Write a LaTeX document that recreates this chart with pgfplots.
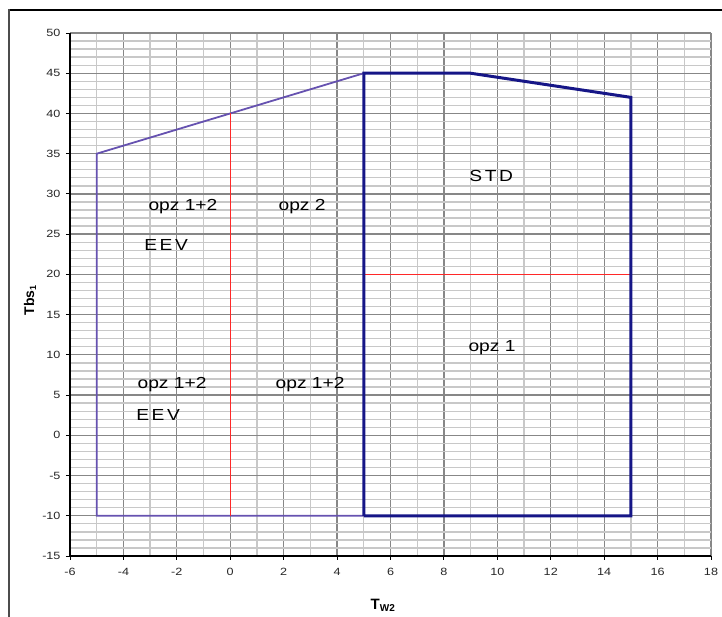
\documentclass[border=0pt]{standalone}
\usepackage{pgfplots}
\pgfplotsset{compat=1.18}
\usepackage{fontspec}
\setmainfont{Liberation Sans}[FakeStretch=1.2]
\newfontfamily\labelfont{Liberation Sans}
\definecolor{purp}{RGB}{102,82,176}
\definecolor{navy}{RGB}{22,22,135}
\definecolor{redl}{RGB}{255,40,40}
\definecolor{majg}{RGB}{135,135,135}
\definecolor{ming}{RGB}{200,200,200}
\begin{document}
\begin{tikzpicture}
\useasboundingbox (-70pt,-61pt) rectangle (652pt,556pt);
\draw[line width=1.5pt, black] (-61pt,546pt) -- (660pt,546pt);
\draw[line width=2pt, black!70] (-61pt,546.75pt) -- (-61pt,-70pt);
\begin{axis}[
  at={(0pt,0pt)}, anchor=south west,
  scale only axis, width=641pt, height=523pt,
  xmin=-6, xmax=18, ymin=-15, ymax=50,
  xtick={-6,-4,...,18}, ytick={-15,-10,...,50},
  minor x tick num=1, minor y tick num=4,
  grid=both,
  major grid style={majg, line width=1.3pt},
  minor grid style={ming, line width=1.3pt},
  axis x line*=bottom, axis y line*=left,
  axis line style={black, line width=1.3pt, -},
  tick align=outside, major tick length=4pt, minor tick length=0pt,
  tick style={black, line width=0.9pt},
  ticklabel style={font=\fontsize{10.5}{12}\selectfont, text=black!85},
  /pgf/number format/assume math mode=true,
  xticklabel style={yshift=-5pt},
  yticklabel style={xshift=-2pt},
  xlabel={\labelfont\bfseries\fontsize{15}{18}\selectfont T\raisebox{-0.25ex}{\fontsize{10}{12}\selectfont W2}},
  ylabel={\labelfont\bfseries\fontsize{14}{17}\selectfont Tbs\raisebox{-0.25ex}{\fontsize{9}{11}\selectfont 1}},
  xlabel style={at={(axis description cs:0.488,-0.0937)}, anchor=center},
  ylabel style={at={(axis description cs:-0.0624,0.489)}, anchor=center},
  clip=false,
]
\addplot[purp, line width=1.8pt] coordinates {(5,-10) (-5,-10) (-5,35) (5,45)};
\addplot[redl, line width=1pt] coordinates {(0,-10) (0,40)};
\addplot[redl, line width=0.9pt] coordinates {(5,20) (15,20)};
\addplot[navy, line width=3pt, line join=miter] coordinates {(5,-10) (5,45) (9,45) (15,42) (15,-10) (5,-10)};
\path[font=\fontsize{16}{19}\selectfont, text=black]
  (axis cs:-1.77,28.4) node {opz 1+2}
  (axis cs:-2.4,23.65) node {E\,E\,V}
  (axis cs:2.69,28.4) node {opz 2}
  (axis cs:9.77,32.2) node {S\,T\,D}
  (axis cs:9.8,10.85) node {opz 1}
  (axis cs:-2.18,6.25) node {opz 1+2}
  (axis cs:-2.7,2.5) node {E\,E\,V}
  (axis cs:2.99,6.25) node {opz 1+2};
\end{axis}
\end{tikzpicture}
\end{document}
